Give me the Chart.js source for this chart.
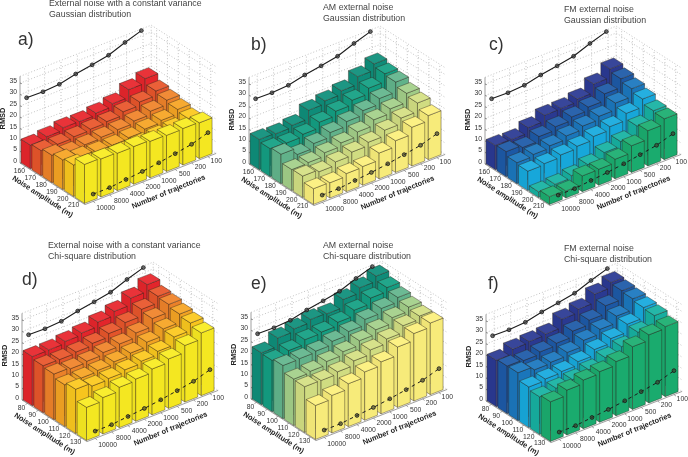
<!DOCTYPE html>
<html>
<head>
<meta charset="utf-8">
<script src="https://cdn.jsdelivr.net/npm/chart.js@4"></script>
<style>
  html, body { margin: 0; background: #fff; overflow: hidden; }
  #wrap { position: relative; width: 688px; height: 457px; overflow: hidden; }
  #wrap canvas { position: absolute; filter: blur(0.3px); }
</style>
</head>
<body>
<div id="wrap"></div>
<script>
// tick labels
const trajectories = ["10000", "8000", "4000", "2000", "1000", "500", "200", "100"];
const noiseGaussian = ["160", "170", "180", "190", "200", "210"];
const noiseChi = ["80", "90", "100", "110", "120", "130"];
const rmsdTicks = [0, 5, 10, 15, 20, 25, 30, 35];

// the two reference curves, same in every panel
const noNoiseCurve = [27.5, 27.3, 27.8, 29.5, 30.7, 32.1, 34.9, 37.3];
const floorCurve = [3.2, 3.2, 4, 4.7, 5.7, 6.9, 8.2, 10.5];

// RMSD, one line per noise amplitude, one value per number of trajectories
const rmsdA = [
  [10.4, 11.3, 12.4, 12.3, 13.2, 14.5, 17.9, 19.9],
  [11, 11, 11.5, 12, 12.5, 14, 15.5, 17.5],
  [12, 10.5, 11, 11.5, 12, 13, 14.5, 16.5],
  [13, 11.5, 11, 11, 11.5, 12.5, 13.5, 15.5],
  [13.8, 12, 11.5, 11.5, 12, 12.5, 13, 14.5],
  [17.1, 16.7, 16.4, 16.5, 16, 15.8, 16, 15.7],
];
const rmsdB = [
  [13.3, 13, 13.9, 17.7, 19, 20.6, 24, 26.8],
  [12.3, 12, 13, 15.5, 17.5, 19.5, 22, 25.5],
  [12.9, 10, 12, 14, 16, 18, 20.5, 24.9],
  [9.2, 9.5, 11, 12.5, 14.5, 17, 19, 23],
  [9.4, 8.5, 10, 11.5, 13, 15.5, 18, 21.8],
  [6.9, 6.7, 7.9, 8.2, 11.3, 13.9, 17, 19.3],
];
const rmsdC = [
  [10.7, 10.5, 12.9, 15.5, 15.7, 17, 20.8, 24.6],
  [11, 10, 12, 13.5, 15, 16.5, 19.5, 23.3],
  [9.2, 10, 11, 12.5, 14, 15.5, 18.5, 22],
  [8.5, 9, 10, 11, 12.5, 14, 17, 20.5],
  [2.5, 3, 4, 6, 8.5, 10.5, 14.5, 18.4],
  [3.4, 3.1, 6.9, 7, 8.6, 11.7, 15.5, 17.9],
];
const rmsdD = [
  [21.6, 21.7, 22.6, 23.5, 25.5, 27.4, 30.4, 33.5],
  [20.6, 20.5, 21, 22, 23.5, 25.5, 28.5, 31.4],
  [20, 19.5, 20, 21, 22, 24, 27.5, 30.9],
  [18.3, 18.5, 19, 20, 21, 23, 26, 29.7],
  [19.4, 18, 18.5, 19.5, 20.5, 22, 25.5, 28.8],
  [14.5, 16, 17.7, 18.5, 20.1, 21.7, 24.8, 27.5],
];
const rmsdE = [
  [22.8, 26.5, 27.7, 29, 28.7, 32.2, 34.5, 36.8],
  [22.5, 24, 26, 26.5, 28, 30.5, 33, 34.8],
  [23.3, 23.5, 24, 25.5, 27, 29.5, 31.5, 33.5],
  [20.4, 21, 22.5, 24, 26, 28, 30.5, 32.3],
  [20.1, 20, 21, 23, 25, 27, 30, 31.4],
  [14.9, 16.5, 18.8, 21.2, 22.8, 26.5, 29.6, 31.4],
];
const rmsdF = [
  [20.4, 22.5, 23, 23.5, 27.2, 28.8, 32.6, 34.9],
  [20.9, 20.5, 21.5, 22.5, 25, 27, 30.5, 34.3],
  [21, 19.5, 20, 21.5, 24, 26, 29, 33.8],
  [17.8, 18.5, 19, 20.5, 23, 25, 28.5, 33],
  [16.5, 17.5, 18.5, 20, 22.5, 24.5, 28, 32.5],
  [17.4, 19.7, 21.3, 22.2, 23.8, 27.5, 29.9, 30.7],
];

// colour per noise amplitude
const warm = ["#e8262c", "#e9562b", "#f0842a", "#f6a524", "#fcc91f", "#f9ec22"];
const sea = ["#0f8f7b", "#14a084", "#63b68d", "#a4d08a", "#d4e084", "#fcf07c"];
const cold = ["#2b3a94", "#1d5aa8", "#1b78bf", "#17aade", "#17b2a2", "#1bae70"];

const panels = [
  { letter: "a)", title: ["External noise with a constant variance", "Gaussian distribution"], values: rmsdA, noise: noiseGaussian, colors: warm, corner: [20, 163], titleAt: [49, 3.5], letterAt: [18, 39] },
  { letter: "b)", title: ["AM external noise", "Gaussian distribution"], values: rmsdB, noise: noiseGaussian, colors: sea, corner: [249, 164], titleAt: [323, 7.5], letterAt: [251, 44] },
  { letter: "c)", title: ["FM external noise", "Gaussian distribution"], values: rmsdC, noise: noiseGaussian, colors: cold, corner: [485, 164], titleAt: [564, 9.5], letterAt: [489, 44] },
  { letter: "d)", title: ["External noise with a constant variance", "Chi-square distribution"], values: rmsdD, noise: noiseChi, colors: warm, corner: [22, 400], titleAt: [48, 245.5], letterAt: [22, 279] },
  { letter: "e)", title: ["AM external noise", "Chi-square distribution"], values: rmsdE, noise: noiseChi, colors: sea, corner: [251, 399], titleAt: [323, 245.5], letterAt: [251, 283] },
  { letter: "f)", title: ["FM external noise", "Chi-square distribution"], values: rmsdF, noise: noiseChi, colors: cold, corner: [486, 401], titleAt: [564, 248.5], letterAt: [488, 283] },
];

// oblique view, in pixels per data unit
const COL_PX = 16.4, COL_RISE = 6.4, ROW_PX = 10.83, ROW_DROP = 6.93, RMSD_PX = 2.28;
const RMSD_TOP = 38;
const W = 225, H = 226, ANCHOR_X = 20, ANCHOR_Y = 165;
const FONT = '"Liberation Sans", Arial, sans-serif';

function project(col, row, z) {
  return {
    x: col + row * ROW_PX / COL_PX,
    y: z + (col * COL_RISE - row * ROW_DROP) / RMSD_PX,
  };
}

function shade(hex, f) {
  const n = parseInt(hex.slice(1), 16);
  const ch = [n >> 16, (n >> 8) & 255, n & 255].map(c =>
    Math.round(f <= 1 ? c * f : c + (255 - c) * (f - 1)));
  return `rgb(${ch[0]},${ch[1]},${ch[2]})`;
}

const bars3d = {
  id: "bars3d",
  beforeDatasetsDraw(chart) {
    const p = chart.options.plugins.bars3d.panel;
    const ctx = chart.ctx;
    const sx = chart.scales.x, sy = chart.scales.y;
    const pt = (c, r, z) => {
      const q = project(c, r, z);
      return [sx.getPixelForValue(q.x), sy.getPixelForValue(q.y)];
    };
    const path = pts => {
      ctx.beginPath();
      pts.forEach((a, i) => (i ? ctx.lineTo(a[0], a[1]) : ctx.moveTo(a[0], a[1])));
    };
    const nc = trajectories.length, nr = p.noise.length;
    ctx.save();

    // dotted walls
    ctx.strokeStyle = "#9a9a9a";
    ctx.lineWidth = 0.6;
    ctx.setLineDash([1, 2]);
    rmsdTicks.forEach(t => {
      path([pt(0, 0, t), pt(nc, 0, t), pt(nc, nr, t)]);
      ctx.stroke();
    });
    for (let c = 0; c < nc; c++) {
      path([pt(c + 0.5, 0, 0), pt(c + 0.5, 0, RMSD_TOP)]);
      ctx.stroke();
    }
    for (let r = 0; r < nr; r++) {
      path([pt(nc, r + 0.5, 0), pt(nc, r + 0.5, RMSD_TOP)]);
      ctx.stroke();
    }
    path([pt(0, 0, RMSD_TOP), pt(nc, 0, RMSD_TOP), pt(nc, nr, RMSD_TOP)]);
    ctx.stroke();
    path([pt(nc, 0, 0), pt(nc, 0, RMSD_TOP)]);
    ctx.stroke();
    ctx.setLineDash([]);

    // axis box and tick marks
    ctx.strokeStyle = "#777";
    ctx.lineWidth = 0.7;
    path([pt(0, 0, RMSD_TOP), pt(0, 0, 0), pt(0, nr, 0), pt(nc, nr, 0)]);
    ctx.stroke();
    rmsdTicks.forEach(t => {
      const a = pt(0, 0, t);
      path([a, [a[0] + 2, a[1] + 0.5]]);
      ctx.stroke();
    });
    for (let r = 0; r < nr; r++) {
      const a = pt(0, r + 0.5, 0);
      path([a, [a[0] - 2, a[1] + 1]]);
      ctx.stroke();
    }
    for (let c = 0; c < nc; c++) {
      const a = pt(c + 0.5, nr, 0);
      path([a, [a[0] + 2, a[1] + 1.5]]);
      ctx.stroke();
    }

    // bars, back to front
    ctx.lineWidth = 0.65;
    ctx.lineJoin = "round";
    ctx.strokeStyle = "rgba(45,35,25,0.62)";
    for (let c = nc - 1; c >= 0; c--) {
      for (let r = 0; r < nr; r++) {
        const v = p.values[r][c], col = p.colors[r];
        const c0 = c + 0.05, c1 = c + 0.83, r0 = r + 0.02, r1 = r + 0.88;
        const face = (pts, fill) => {
          path(pts);
          ctx.closePath();
          ctx.fillStyle = fill;
          ctx.fill();
          ctx.stroke();
        };
        face([pt(c0, r0, 0), pt(c0, r1, 0), pt(c0, r1, v), pt(c0, r0, v)], shade(col, 0.95));
        face([pt(c0, r1, 0), pt(c1, r1, 0), pt(c1, r1, v), pt(c0, r1, v)], shade(col, 0.98));
        face([pt(c0, r0, v), pt(c0, r1, v), pt(c1, r1, v), pt(c1, r0, v)], shade(col, 1.06));
      }
    }

    // text
    const put = (s, x, y, font, color, align, angle) => {
      ctx.save();
      ctx.translate(x, y);
      ctx.rotate(angle || 0);
      ctx.font = font;
      ctx.fillStyle = color;
      ctx.textAlign = align || "center";
      ctx.textBaseline = "middle";
      ctx.fillText(s, 0, 0);
      ctx.restore();
    };
    const tickFont = "6.8px " + FONT, boldFont = "bold 7.4px " + FONT;
    rmsdTicks.forEach(t => {
      const a = pt(0, 0, t);
      put(String(t), a[0] - 3, a[1] - 2, tickFont, "#333", "right");
    });
    p.noise.forEach((s, r) => {
      const a = pt(0, r + 0.5, 0);
      put(s, a[0] - 6, a[1] + 4.5, tickFont, "#333");
    });
    trajectories.forEach((s, c) => {
      const a = pt(c + 0.5, nr, 0);
      put(s, a[0] + 12.5 - c * 0.6, a[1] + 6.3 - c * 0.3, tickFont, "#333");
    });
    const n = pt(0, nr * 0.5, 0);
    put("Noise amplitude (m)", n[0] - 10, n[1] + 13, boldFont, "#222", "center", 0.57);
    const m = pt(nc * 0.5, nr, 0);
    put("Number of trajectories", m[0] + 18, m[1] + 13, boldFont, "#222", "center", -0.39);
    const z = pt(0, 0, 19.5);
    put("RMSD", z[0] - 17, z[1], boldFont, "#222", "center", -Math.PI / 2);

    p.title.forEach((s, i) => {
      put(s, p.titleAt[0] - p.corner[0] + ANCHOR_X, p.titleAt[1] + i * 10.8 - p.corner[1] + ANCHOR_Y, "8.8px " + FONT, "#444", "left");
    });
    put(p.letter, p.letterAt[0] - p.corner[0] + ANCHOR_X, p.letterAt[1] + 1.5 - p.corner[1] + ANCHOR_Y, "17.5px " + FONT, "#333", "left");
    ctx.restore();
  },
};

const wrap = document.getElementById("wrap");
panels.forEach(p => {
  const canvas = document.createElement("canvas");
  canvas.width = W;
  canvas.height = H;
  canvas.style.left = p.corner[0] - ANCHOR_X + "px";
  canvas.style.top = p.corner[1] - ANCHOR_Y + "px";
  wrap.appendChild(canvas);

  new Chart(canvas.getContext("2d"), {
    type: "scatter",
    data: {
      datasets: [
        {
          label: "upper curve",
          data: noNoiseCurve.map((v, c) => project(c + 0.4, 0, v)),
          showLine: true,
          borderColor: "#1c1c1c",
          borderWidth: 1.1,
          pointRadius: 1.9,
          pointBorderWidth: 0.8,
          pointBorderColor: "#1c1c1c",
          pointBackgroundColor: "rgba(70,70,70,0.75)",
        },
        {
          label: "lower curve",
          data: floorCurve.map((v, c) => project(c + 0.5, p.noise.length, v)),
          showLine: true,
          borderColor: "#1c1c1c",
          borderWidth: 1,
          borderDash: [3.5, 3.5],
          pointRadius: 1.9,
          pointBorderWidth: 0.8,
          pointBorderColor: "#1c1c1c",
          pointBackgroundColor: "rgba(60,60,40,0.65)",
        },
      ],
    },
    options: {
      responsive: false,
      animation: false,
      clip: false,
      layout: { autoPadding: false, padding: 0 },
      scales: {
        x: { type: "linear", display: false, min: -ANCHOR_X / COL_PX, max: (W - ANCHOR_X) / COL_PX },
        y: { type: "linear", display: false, min: (ANCHOR_Y - H) / RMSD_PX, max: ANCHOR_Y / RMSD_PX },
      },
      plugins: {
        legend: { display: false },
        tooltip: { enabled: false },
        bars3d: { panel: p },
      },
    },
    plugins: [bars3d],
  });
});
</script>
</body>
</html>
